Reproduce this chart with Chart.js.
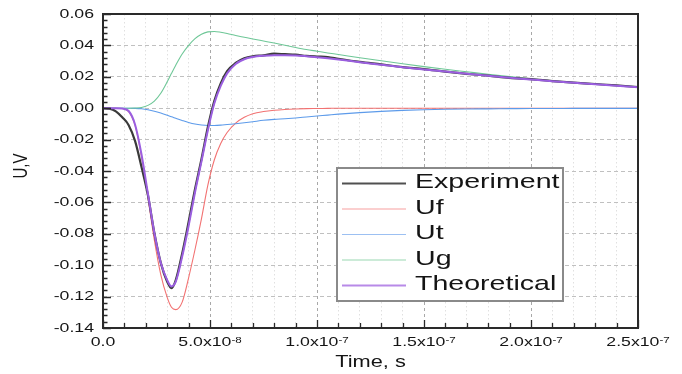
<!DOCTYPE html>
<html><head><meta charset="utf-8">
<script src="https://cdn.jsdelivr.net/npm/chart.js@4.4.0/dist/chart.umd.min.js"></script>
<style>html,body{margin:0;padding:0;background:#fff}#wrap{width:682px;height:374px}</style>
</head><body><div id="wrap"><canvas id="c" width="682" height="374"></canvas></div>
<script>
// ---- data (time in ns, voltage in V) ----
const timeNs = [0,3,6,9,12,15,18,21,24,27,30,32,34,37,40,43,46,49,52,55,58,62,66,70,75,80,85,90,95,100,105,110,120,130,140,150,160,170,180,190,200,210,220,230,240,250];
const experiment = [0,-0.0003,-0.002,-0.0058,-0.0108,-0.021,-0.0375,-0.0555,-0.0795,-0.0985,-0.1105,-0.1146,-0.1095,-0.0925,-0.0725,-0.0515,-0.0325,-0.0120,0.0045,0.0158,0.0236,0.0288,0.0318,0.0331,0.0337,0.0347,0.0344,0.0341,0.0333,0.0329,0.0326,0.0315,0.0295,0.0279,0.0262,0.0249,0.0233,0.0219,0.0207,0.0193,0.0185,0.0173,0.0163,0.0154,0.0145,0.0135];
const uf = [0,0,0,-0.0002,-0.0022,-0.011,-0.031,-0.057,-0.084,-0.1060,-0.1205,-0.1268,-0.1283,-0.1235,-0.108,-0.090,-0.0705,-0.049,-0.033,-0.0225,-0.0155,-0.0095,-0.0058,-0.0035,-0.0021,-0.0013,-0.0008,-0.0005,-0.0003,-0.0002,-0.0001,0,0,0,0,0,0,0,0,0,0,0,0,0,0,0];
const ut = [0,0,0,0,0,-0.0001,-0.0004,-0.001,-0.0019,-0.0031,-0.0045,-0.0055,-0.0064,-0.0078,-0.0091,-0.0101,-0.0107,-0.011,-0.011,-0.0108,-0.0104,-0.0099,-0.0093,-0.0086,-0.0077,-0.0071,-0.0067,-0.0062,-0.0056,-0.005,-0.0044,-0.0038,-0.0028,-0.002,-0.0014,-0.001,-0.0007,-0.0005,-0.0004,-0.0003,-0.0002,-0.0002,-0.0001,-0.0001,-0.0001,-0.0001];
const ug = [0,0,0,0,0,0.0001,0.0005,0.0018,0.0045,0.0095,0.0168,0.0222,0.0274,0.0345,0.0400,0.0443,0.0471,0.0486,0.0489,0.0484,0.0476,0.0463,0.0452,0.0441,0.0428,0.0415,0.0401,0.0387,0.0374,0.0363,0.0352,0.0342,0.0321,0.0302,0.0283,0.0265,0.0248,0.0232,0.0216,0.0201,0.0187,0.0175,0.0164,0.0154,0.0145,0.0137];
const theoretical = [0,0,0,-0.0002,-0.0018,-0.0105,-0.0295,-0.0545,-0.0795,-0.0985,-0.1095,-0.1135,-0.1105,-0.0945,-0.0750,-0.0535,-0.0340,-0.0140,0.0030,0.0142,0.0222,0.0282,0.0312,0.0326,0.0334,0.0338,0.0338,0.0336,0.0331,0.0325,0.0318,0.0310,0.0293,0.0277,0.0261,0.0247,0.0233,0.0219,0.0206,0.0194,0.0183,0.0172,0.0162,0.0152,0.0143,0.0134];

const seriesNames = ['Experiment','Uf','Ut','Ug','Theoretical'];
const xTickValuesNs = [0,50,100,150,200,250];
const xTickMantissa = ['0.0','5.0x10','1.0x10','1.5x10','2.0x10','2.5x10'];
const xTickExponent = ['','-8','-7','-7','-7','-7'];
const yTickValues = [-0.14,-0.12,-0.10,-0.08,-0.06,-0.04,-0.02,0,0.02,0.04,0.06];
const yTickLabels = ['-0.14','-0.12','-0.10','-0.08','-0.06','-0.04','-0.02','0.00','0.02','0.04','0.06'];
const xTitle = 'Time, s';
const yTitle = 'U,V';

const FONT_FAMILY = '"Liberation Sans", Arial, Helvetica, sans-serif';
const SX = 1.36;
const TEXT_COLOR = '#151515';

function stretchText(ctx, text, x, y, size, align, baseline, rot) {
  ctx.save();
  ctx.translate(x, y);
  ctx.scale(SX, 1);
  if (rot) ctx.rotate(rot);
  ctx.font = size + 'px ' + FONT_FAMILY;
  ctx.fillStyle = TEXT_COLOR;
  ctx.textAlign = align; ctx.textBaseline = baseline;
  ctx.fillText(text, 0, 0);
  ctx.restore();
}

function mk(arr){ return timeNs.map((t,i)=>({x:t,y:arr[i]})); }

const decor = {
  id:'decor',
  afterDraw(chart){
    const ctx = chart.ctx;
    const a = chart.chartArea;
    const xs = chart.scales.x, ys = chart.scales.y;
    ctx.save();
    // inward tick marks
    ctx.strokeStyle = '#2a2a2a'; ctx.lineWidth = 1.3;
    ctx.beginPath();
    xs.ticks.forEach(t => {
      const px = Math.round(xs.getPixelForValue(t.value)) + 0.5;
      const len = (Math.round(t.value) % 50 === 0) ? 8 : 5;
      ctx.moveTo(px, a.bottom); ctx.lineTo(px, a.bottom - len);
    });
    for (let k = 0; k <= 50; k++) {
      const v = -0.14 + k * 0.004;
      const py = Math.round(ys.getPixelForValue(v)) + 0.5;
      const len = (k % 5 === 0) ? 8 : 4.5;
      ctx.moveTo(a.left, py); ctx.lineTo(a.left + len, py);
    }
    ctx.stroke();
    // frame
    ctx.strokeStyle = '#2a2a2a'; ctx.lineWidth = 2;
    ctx.strokeRect(a.left, a.top, a.right - a.left, a.bottom - a.top);
    // y tick labels
    yTickValues.forEach((v,i) => {
      stretchText(ctx, yTickLabels[i], 94, ys.getPixelForValue(v), 13, 'right', 'middle');
    });
    // x tick labels with superscript exponent
    xTickValuesNs.forEach((v,i) => {
      const px = xs.getPixelForValue(v);
      ctx.font = '13px ' + FONT_FAMILY;
      const w1 = ctx.measureText(xTickMantissa[i]).width;
      ctx.font = '8.5px ' + FONT_FAMILY;
      const w2 = xTickExponent[i] ? ctx.measureText(xTickExponent[i]).width : 0;
      const start = px - (w1 + w2) * SX / 2;
      stretchText(ctx, xTickMantissa[i], start, 346, 13, 'left', 'alphabetic');
      if (xTickExponent[i]) stretchText(ctx, xTickExponent[i], start + w1 * SX, 342.5, 8.5, 'left', 'alphabetic');
    });
    // axis titles
    stretchText(ctx, xTitle, (a.left + a.right) / 2, 363, 16, 'center', 'middle');
    stretchText(ctx, yTitle, 21, 166, 15, 'center', 'middle', -Math.PI / 2);
    // legend
    const L = {x:337, y:168, w:226, h:133};
    ctx.fillStyle = '#fff';
    ctx.fillRect(L.x, L.y, L.w, L.h);
    ctx.strokeStyle = '#8a8a8a'; ctx.lineWidth = 2;
    ctx.strokeRect(L.x, L.y, L.w, L.h);
    chart.data.datasets.forEach((ds, i) => {
      const ly = 183.5 + i * 25.5;
      ctx.strokeStyle = ds.legendColor; ctx.lineWidth = ds.borderWidth;
      ctx.beginPath(); ctx.moveTo(342, ly); ctx.lineTo(406, ly); ctx.stroke();
      stretchText(ctx, ds.label, 415, ly - 1, 21, 'left', 'middle');
    });
    ctx.restore();
  }
};

new Chart(document.getElementById('c'), {
  type: 'line',
  data: { datasets: [
    {label: seriesNames[0], data: mk(experiment), borderColor: '#3a3a3a', legendColor:'#505050', borderWidth: 2.2, order: 2},
    {label: seriesNames[1], data: mk(uf), borderColor: '#f27272', legendColor:'#f7a0a0', borderWidth: 1.1, order: 5},
    {label: seriesNames[2], data: mk(ut), borderColor: '#5d9bea', legendColor:'#9cc0f2', borderWidth: 1.1, order: 4},
    {label: seriesNames[3], data: mk(ug), borderColor: '#6ec797', legendColor:'#9ad8b2', borderWidth: 1.1, order: 3},
    {label: seriesNames[4], data: mk(theoretical), borderColor: '#9b5fe0', legendColor:'#b88ae8', borderWidth: 2, order: 1}
  ]},
  options: {
    responsive: false, animation: false, devicePixelRatio: 1,
    layout: { padding: { top: 14, right: 44, left: 0, bottom: 0 } },
    elements: { point: { radius: 0 }, line: { cubicInterpolationMode: 'monotone', fill: false } },
    plugins: { legend: { display: false }, tooltip: { enabled: false } },
    scales: {
      x: {
        type: 'linear', min: 0, max: 250,
        ticks: { display: false, stepSize: 10 },
        grid: { drawTicks: false, lineWidth: 1,
          color: c => (Math.round(c.tick.value) % 50 === 0) ? '#a8a8a8' : '#e0e0e0' },
        border: { display: false,
          dash: c => (c.tick && Math.round(c.tick.value) % 50 === 0) ? [3,3] : [1.5,2.5] },
        afterFit: s => { s.height = 46; }
      },
      y: {
        type: 'linear', min: -0.14, max: 0.06,
        ticks: { display: false, stepSize: 0.02 },
        grid: { drawTicks: false, lineWidth: 1, color: '#c0c0c0' },
        border: { display: false, dash: [4,3] },
        afterFit: s => { s.width = 103; }
      }
    }
  },
  plugins: [decor]
});
</script>
</body></html>
